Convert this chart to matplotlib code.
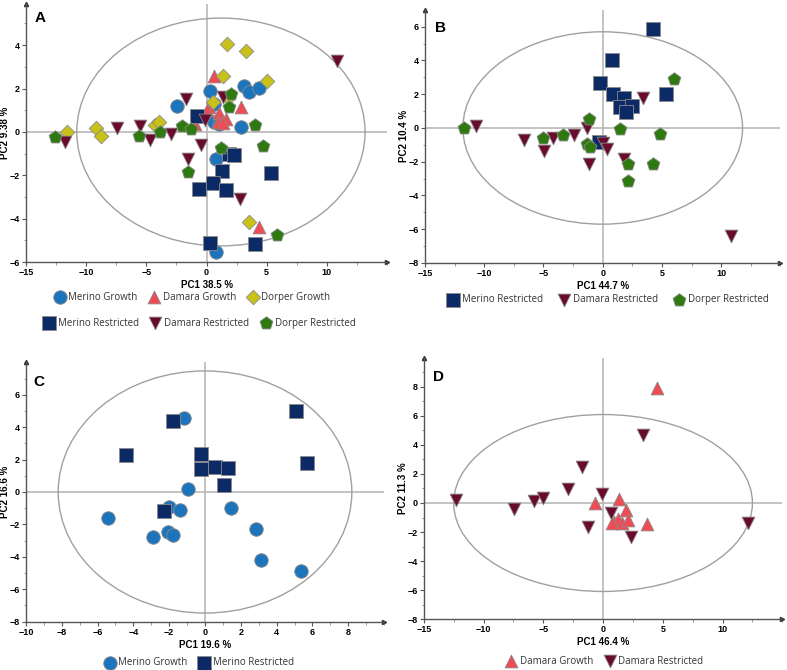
import matplotlib
matplotlib.use("Agg")
import matplotlib.pyplot as plt
from matplotlib.patches import Ellipse
from matplotlib.ticker import AutoMinorLocator

# ---- data ----
# panel A: all six groups
merino_growth_A_x = [-2.43, 0.33, 0.66, 0.61, 1.08, 2.88, 3.15, 3.5, 4.4, 0.75, 0.8]
merino_growth_A_y = [1.21, 1.87, 1.27, 0.45, 0.38, 0.24, 2.12, 1.86, 2.04, -1.23, -5.53]
damara_growth_A_x = [0.63, 0.19, 0.03, 1.08, 0.94, 1.63, 1.35, -0.95, 2.88, 4.4]
damara_growth_A_y = [2.56, 1.17, 1.0, 0.86, 0.48, 0.6, 0.42, 0.38, 1.13, -4.39]
dorper_growth_A_x = [1.72, 3.29, 1.41, 5.03, 0.52, 1.77, -11.65, -9.16, -8.82, -4.32, -3.96, 3.51]
dorper_growth_A_y = [4.06, 3.72, 2.57, 2.33, 1.36, 1.55, -0.02, 0.18, -0.17, 0.34, 0.45, -4.15]
merino_restr_A_x = [-0.76, 1.91, 2.32, 1.3, 5.37, 0.58, -0.66, 1.63, 0.25, 4.07]
merino_restr_A_y = [0.72, -1.0, -1.08, -1.81, -1.89, -2.35, -2.63, -2.66, -5.12, -5.15]
damara_restr_A_x = [10.9, -1.69, 1.41, -0.14, -11.78, -7.44, -5.5, -4.73, -2.93, -0.44, -1.55, 2.79]
damara_restr_A_y = [3.29, 1.52, 1.62, 0.57, -0.48, 0.18, 0.26, -0.35, -0.08, -0.58, -1.24, -3.09]
dorper_restr_A_x = [-12.6, -5.62, -3.85, -2.02, -1.27, 2.02, 1.91, 4.07, 1.22, 4.67, -1.55, 5.86]
dorper_restr_A_y = [-0.25, -0.17, -0.02, 0.29, 0.14, 1.77, 1.15, 0.31, -0.74, -0.66, -1.86, -4.73]

# panel B: restricted groups
merino_restr_B_x = [4.22, 0.76, -0.25, 0.9, 1.82, 1.46, 2.47, 2.0, 5.37, -0.34]
merino_restr_B_y = [5.85, 4.01, 2.67, 2.0, 1.76, 1.24, 1.29, 0.93, 2.02, -0.81]
damara_restr_B_x = [-10.72, -6.64, -4.95, -4.22, -2.42, -1.35, 0.0, 0.34, -1.13, 1.83, 3.38, 10.8]
damara_restr_B_y = [0.12, -0.69, -1.36, -0.57, -0.43, 0.02, -0.89, -1.26, -2.11, -1.82, 1.8, -6.4]
dorper_restr_B_x = [-11.7, -5.0, -3.32, -1.35, -1.07, -1.15, 1.46, 4.84, 2.17, 4.28, 2.11, 6.05]
dorper_restr_B_y = [0.02, -0.57, -0.43, -0.93, -1.13, 0.55, -0.08, -0.34, -2.11, -2.15, -3.14, 2.89]

# panel C: Merino
merino_growth_C_x = [-1.15, -0.97, -1.99, -1.4, -5.4, -2.92, -2.08, -1.8, 1.45, 2.85, 3.13, 5.36]
merino_growth_C_y = [4.59, 0.16, -0.93, -1.09, -1.6, -2.78, -2.47, -2.67, -0.97, -2.26, -4.18, -4.9]
merino_restr_C_x = [-1.77, -4.43, -0.22, -0.24, 0.56, 1.3, 1.08, -2.27, 5.08, 5.71]
merino_restr_C_y = [4.36, 2.3, 2.37, 1.4, 1.54, 1.48, 0.45, -1.19, 4.98, 1.79]

# panel D: Damara
damara_growth_D_x = [4.53, -0.67, 1.36, 1.92, 0.92, 1.23, 1.56, 2.12, 3.66, 0.73]
damara_growth_D_y = [7.95, 0.0, 0.25, -0.48, -1.29, -1.12, -1.36, -1.17, -1.45, -1.4]
damara_restr_D_x = [-12.28, -7.42, -5.75, -5.0, -2.97, -1.75, -0.1, -1.23, 0.64, 2.32, 3.33, 12.14]
damara_restr_D_y = [0.18, -0.39, 0.16, 0.35, 0.97, 2.49, 0.62, -1.63, -0.71, -2.37, 4.72, -1.38]

# group styles: label -> (marker, colour, size)
STYLE = {
    'Merino Growth': ('o', '#1c74bc', 95),
    'Damara Growth': ('^', '#f04b55', 85),
    'Dorper Growth': ('D', '#c8c11a', 55),
    'Merino Restricted': ('s', '#0b2a66', 95),
    'Damara Restricted': ('v', '#6a0a2c', 85),
    'Dorper Restricted': ('p', '#2f7a10', 95),
}

TICK_FONT = dict(family='Liberation Sans', weight='bold', size=6.5)
LEG_FONT = dict(family='Open Sans', size=7)


def scatter(ax, xs, ys, label):
    m, c, s = STYLE[label]
    return ax.scatter(xs, ys, marker=m, s=s, c=c, edgecolors='#8a8a8a',
                      linewidths=0.6, label=label, zorder=3)


def setup_axis(ax, xlim, ylim, xticks, yticks, xlabel, ylabel, ell):
    ax.set_xlim(xlim)
    ax.set_ylim(ylim)
    for s in ['top', 'right']:
        ax.spines[s].set_visible(False)
    for s in ['left', 'bottom']:
        ax.spines[s].set_color('#555555')
        ax.spines[s].set_linewidth(1.0)
    ax.set_xticks(xticks)
    ax.set_yticks(yticks)
    ax.xaxis.set_minor_locator(AutoMinorLocator(2))
    ax.yaxis.set_minor_locator(AutoMinorLocator(2))
    ax.tick_params(which='major', length=3, width=0.8, color='#555555', pad=1.5)
    ax.tick_params(which='minor', length=1.8, width=0.6, color='#888888')
    for t in ax.get_xticklabels() + ax.get_yticklabels():
        t.set_fontfamily(TICK_FONT['family'])
        t.set_fontweight(TICK_FONT['weight'])
        t.set_fontsize(TICK_FONT['size'])
    ax.set_xlabel(xlabel, fontfamily='Liberation Sans', fontweight='bold',
                  fontsize=7, labelpad=2)
    ax.set_ylabel(ylabel, fontfamily='Liberation Sans', fontweight='bold',
                  fontsize=7)
    ax.yaxis.set_label_coords(-0.045, 0.5)
    # zero lines and Hotelling ellipse
    ax.axhline(0, color='#b3b3b3', lw=1.1, zorder=1)
    ax.axvline(0, color='#b3b3b3', lw=1.1, zorder=1)
    (cx, cy), a, b = ell
    ax.add_patch(Ellipse((cx, cy), 2 * a, 2 * b, fill=False,
                         edgecolor='#a0a0a0', lw=1.0, zorder=2))
    # little arrowheads at the axis ends
    ax.plot(1, 0, '>', ms=3, color='#333333', transform=ax.transAxes, clip_on=False)
    ax.plot(0, 1, '^', ms=3, color='#333333', transform=ax.transAxes, clip_on=False)


def add_legend(ax, handles, anchor, colspace=1.1):
    leg = ax.legend(handles=handles, loc='center', bbox_to_anchor=anchor,
                    ncol=len(handles), frameon=False, prop=LEG_FONT,
                    handletextpad=0.3, columnspacing=colspace,
                    borderaxespad=0, handlelength=1.2)
    for t in leg.get_texts():
        t.set_color('#333333')
    return leg


fig = plt.figure(figsize=(7.87, 6.70), dpi=100)
axA = fig.add_axes([0.0334, 0.6087, 0.458, 0.3854])
axB = fig.add_axes([0.540, 0.6075, 0.4517, 0.3778])
axC = fig.add_axes([0.033, 0.0722, 0.455, 0.387])
axD = fig.add_axes([0.5385, 0.0761, 0.4555, 0.3896])

# panel A
hA = [scatter(axA, merino_growth_A_x, merino_growth_A_y, 'Merino Growth'),
      scatter(axA, damara_growth_A_x, damara_growth_A_y, 'Damara Growth'),
      scatter(axA, dorper_growth_A_x, dorper_growth_A_y, 'Dorper Growth')]
hA2 = [scatter(axA, merino_restr_A_x, merino_restr_A_y, 'Merino Restricted'),
       scatter(axA, damara_restr_A_x, damara_restr_A_y, 'Damara Restricted'),
       scatter(axA, dorper_restr_A_x, dorper_restr_A_y, 'Dorper Restricted')]
setup_axis(axA, (-15, 15), (-6, 5.9), range(-15, 15, 5), range(-6, 6, 2),
           'PC1 38.5 %', 'PC2 9.38 %', ((1.2, 0), 12.0, 5.25))
legA = add_legend(axA, hA, (0.46, -0.136))
axA.add_artist(legA)
add_legend(axA, hA2, (0.48, -0.236))

# panel B
hB = [scatter(axB, merino_restr_B_x, merino_restr_B_y, 'Merino Restricted'),
      scatter(axB, damara_restr_B_x, damara_restr_B_y, 'Damara Restricted'),
      scatter(axB, dorper_restr_B_x, dorper_restr_B_y, 'Dorper Restricted')]
setup_axis(axB, (-15, 15), (-8, 7), range(-15, 15, 5), range(-8, 7, 2),
           'PC1 44.7 %', 'PC2 10.4 %', ((0, 0), 11.8, 5.7))
add_legend(axB, hB, (0.515, -0.146), colspace=1.6)

# panel C
hC = [scatter(axC, merino_growth_C_x, merino_growth_C_y, 'Merino Growth'),
      scatter(axC, merino_restr_C_x, merino_restr_C_y, 'Merino Restricted')]
setup_axis(axC, (-10, 10), (-8, 8), range(-10, 10, 2), range(-8, 8, 2),
           'PC1 19.6 %', 'PC2 16.6 %', ((0, 0), 8.2, 7.47))
add_legend(axC, hC, (0.483, -0.159))

# panel D
hD = [scatter(axD, damara_growth_D_x, damara_growth_D_y, 'Damara Growth'),
      scatter(axD, damara_restr_D_x, damara_restr_D_y, 'Damara Restricted')]
setup_axis(axD, (-15, 15), (-8, 10), range(-15, 15, 5), range(-8, 10, 2),
           'PC1 46.4 %', 'PC2 11.3 %', ((0, 0), 12.5, 6.1))
add_legend(axD, hD, (0.504, -0.162))

# panel letters
for lab, (px, py) in {'A': (40, 18), 'B': (440, 28), 'C': (39, 382), 'D': (439, 377)}.items():
    fig.text(px / 787, 1 - py / 670, lab, ha='center', va='center',
             fontfamily='Liberation Sans', fontweight='bold', fontsize=11)

fig.savefig('out.png', dpi=100)
